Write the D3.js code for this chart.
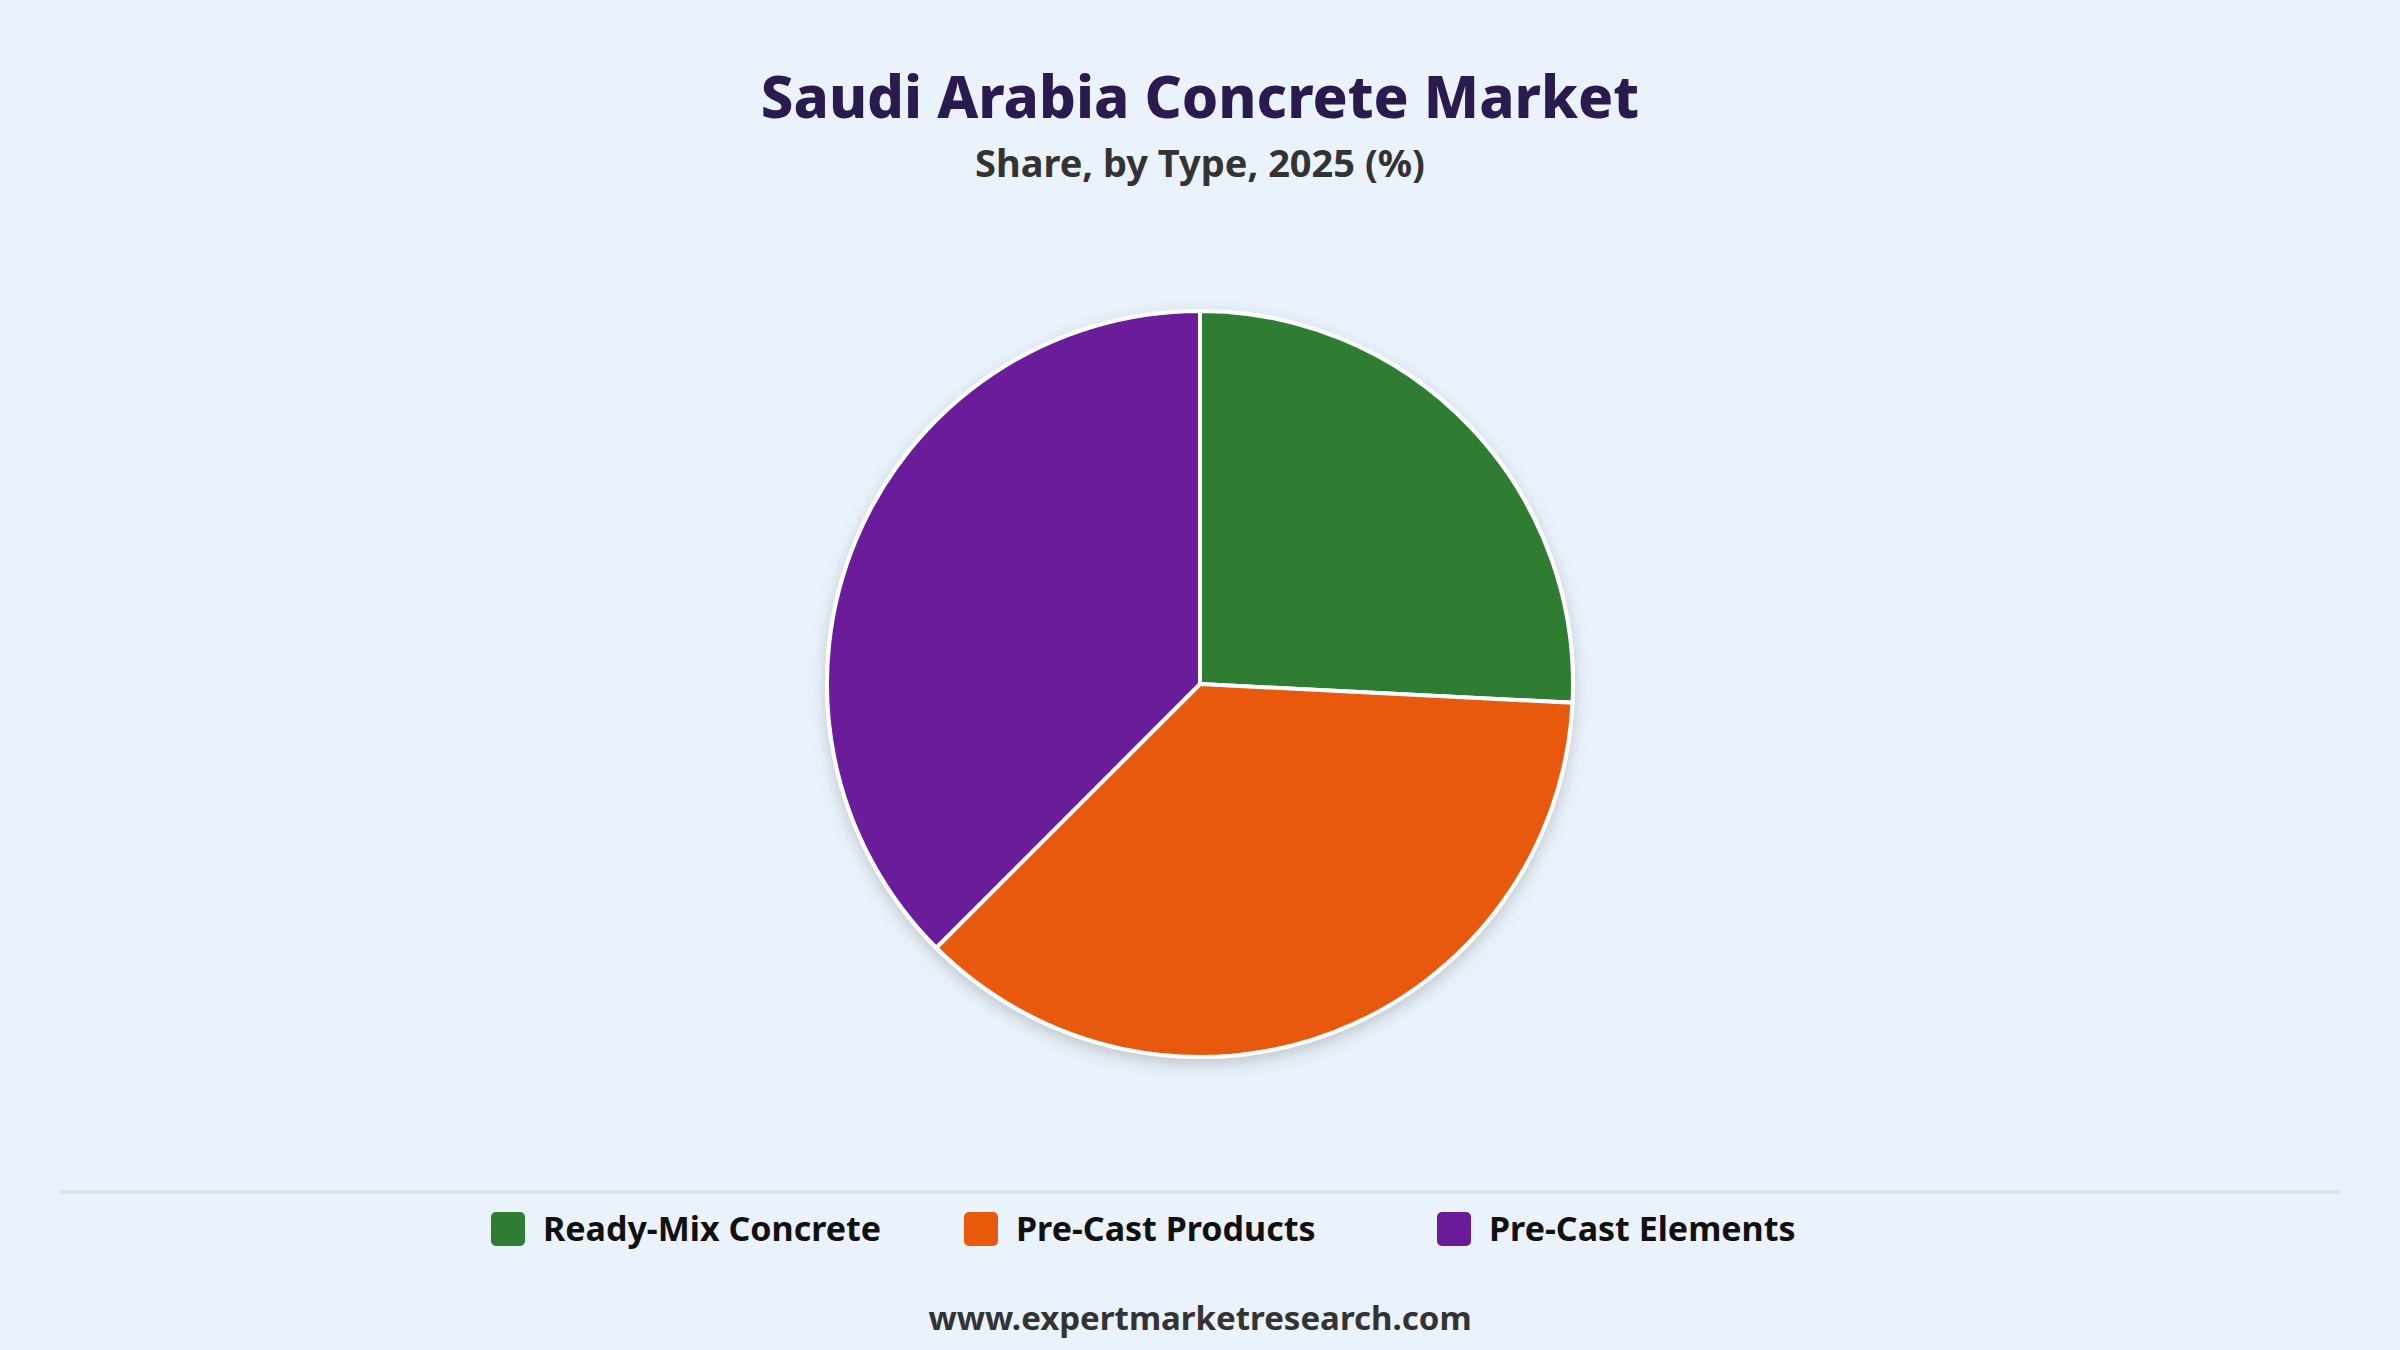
<!DOCTYPE html>
<html><head><meta charset="utf-8">
<script src="https://cdn.jsdelivr.net/npm/d3@7"></script>
<style>body{margin:0;background:#eaf2fb;}svg{display:block;font-family:"Noto Sans",sans-serif;}</style>
</head><body><svg id="c" width="2400" height="1350"></svg>
<script>
const categories=["Ready-Mix Concrete","Pre-Cast Products","Pre-Cast Elements"];
const values=[25.8,36.7,37.5];
const colors=["#2e7d32","#e8590c","#6a1b9a"];
const svg=d3.select("#c");
svg.append("rect").attr("width",2400).attr("height",1350).attr("fill","#eaf2fb");
const defs=svg.append("defs");
const f=defs.append("filter").attr("id","sh").attr("x","-20%").attr("y","-20%").attr("width","140%").attr("height","140%");
f.append("feDropShadow").attr("dx",0).attr("dy",6).attr("stdDeviation",8).attr("flood-color","#000").attr("flood-opacity",0.18);
svg.append("text").attr("x",1200).attr("y",118).attr("text-anchor","middle").attr("font-size",58).attr("font-weight",800).attr("fill","#2a1a4e").text("Saudi Arabia Concrete Market");
svg.append("text").attr("x",1200).attr("y",177).attr("text-anchor","middle").attr("font-size",38).attr("font-weight",700).attr("fill","#333").text("Share, by Type, 2025 (%)");
const pie=d3.pie().sort(null)(values);
const arc=d3.arc().innerRadius(0).outerRadius(373);
const g=svg.append("g").attr("transform","translate(1200,684)").attr("filter","url(#sh)");
g.selectAll("path").data(pie).join("path").attr("d",arc).attr("fill",(d,i)=>colors[i]).attr("stroke","#fff").attr("stroke-width",4);
svg.append("line").attr("x1",61).attr("x2",2339).attr("y1",1192).attr("y2",1192).attr("stroke","#d8dde3").attr("stroke-width",3);
const xs=[491,964,1437];
const lg=svg.selectAll(".lg").data(categories).join("g").attr("transform",(d,i)=>`translate(${xs[i]},1212)`);
lg.append("rect").attr("width",34).attr("height",34).attr("rx",5).attr("fill",(d,i)=>colors[i]);
lg.append("text").attr("x",52).attr("y",29).attr("font-size",34).attr("font-weight",700).attr("fill","#111").text(d=>d);
svg.append("text").attr("x",1200).attr("y",1330).attr("text-anchor","middle").attr("font-size",33).attr("font-weight",700).attr("fill","#333").text("www.expertmarketresearch.com");
</script></body></html>
